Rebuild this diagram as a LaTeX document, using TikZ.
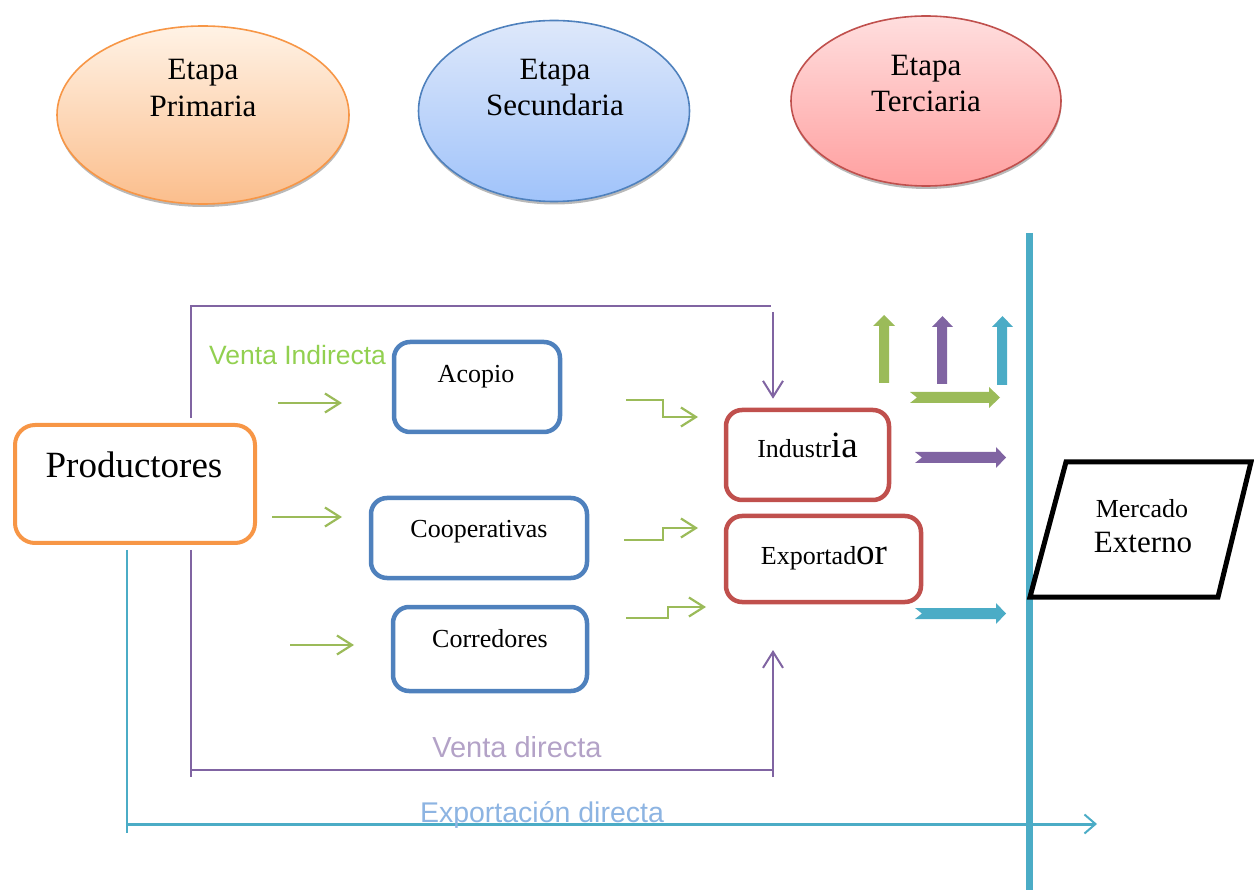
\documentclass[tikz,border=0pt]{standalone}
\usepackage{fontspec}
\setmainfont{Liberation Serif}
\newfontfamily\arialf{Liberation Sans}
\usetikzlibrary{arrows.meta,shadows,shapes.geometric}
\definecolor{corange}{HTML}{F79646}
\definecolor{cblue}{HTML}{4F81BD}
\definecolor{cred}{HTML}{C0504D}
\definecolor{cgreen}{HTML}{9BBB59}
\definecolor{cpurple}{HTML}{8064A2}
\definecolor{ccyan}{HTML}{4BACC6}
\definecolor{tgreen}{HTML}{92D050}
\definecolor{tpurple}{HTML}{B3A2C7}
\definecolor{tblue}{HTML}{8DB4E2}
\begin{document}
\begin{tikzpicture}[x=1pt,y=-1pt,
  stage/.style={ellipse, draw, line width=1.6pt, inner sep=0pt,
    drop shadow={shadow xshift=0.5pt, shadow yshift=-3pt, opacity=0.55, fill=gray}},
  procbox/.style={rectangle, rounded corners=16pt, draw, line width=4.5pt, inner sep=0pt, fill=white},
  lbl/.style={anchor=base, inner sep=0pt},
  garrow/.style={draw=cgreen, line width=2.2pt, -{Straight Barb[length=15pt,width=19pt,line width=2.2pt]}},
  vline/.style={draw=cpurple, line width=2pt},
  cline/.style={draw=ccyan},
]
\useasboundingbox (0,0) rectangle (1254,890);

% stage ellipses
\node[stage, draw=corange, top color=orange!10!white, bottom color={rgb,255:red,251;green,190;blue,140},
  minimum width=292pt, minimum height=178pt] (ep) at (203,115) {};
\node[stage, draw=cblue, top color={rgb,255:red,222;green,232;blue,250}, bottom color={rgb,255:red,160;green,195;blue,250},
  minimum width=271pt, minimum height=181pt] (es) at (554,111) {};
\node[stage, draw=cred, top color={rgb,255:red,255;green,222;blue,222}, bottom color={rgb,255:red,255;green,160;blue,160},
  minimum width=270pt, minimum height=170pt] (et) at (926,101) {};
\node[lbl, font=\fontsize{31}{34}\selectfont] (ep1) at (203,80) {Etapa};
\node[lbl, font=\fontsize{31}{34}\selectfont] (ep2) at (203,117) {Primaria};
\node[lbl, font=\fontsize{31}{34}\selectfont] (es1) at (555,80) {Etapa};
\node[lbl, font=\fontsize{31}{34}\selectfont] (es2) at (555,116) {Secundaria};
\node[lbl, font=\fontsize{31}{34}\selectfont] (et1) at (926,76) {Etapa};
\node[lbl, font=\fontsize{31}{34}\selectfont] (et2) at (926,112) {Terciaria};

% external market line
\draw[cline, line width=7pt] (1029,233) coordinate (mtop) -- (1029,890) coordinate (mbot);

% process boxes
\node[procbox, draw=corange, rounded corners=20pt, line width=4pt, minimum width=240pt, minimum height=118pt] (prod) at (135,484) {};
\node[lbl, font=\fontsize{37}{40}\selectfont] (prodt) at (134,478) {Productores};

\node[procbox, draw=cblue, minimum width=166pt, minimum height=90pt] (aco) at (477,387) {};
\node[lbl, font=\fontsize{26}{28}\selectfont] (acot) at (476,383) {Acopio};
\node[procbox, draw=cblue, minimum width=216pt, minimum height=80pt] (coo) at (479,538) {};
\node[lbl, font=\fontsize{26}{28}\selectfont] (coot) at (479,538) {Cooperativas};
\node[procbox, draw=cblue, minimum width=194pt, minimum height=84pt] (cor) at (490,649) {};
\node[lbl, font=\fontsize{26}{28}\selectfont] (cort) at (490,647) {Corredores};

\node[procbox, draw=cred, minimum width=163pt, minimum height=90pt] (ind) at (807.5,455) {};
\node[lbl, font=\fontsize{26}{28}\selectfont] (indt) at (807.5,458) {Industr{\fontsize{37}{40}\selectfont ia}};
\node[procbox, draw=cred, minimum width=195pt, minimum height=86pt] (exp) at (823.5,559) {};
\node[lbl, font=\fontsize{26}{28}\selectfont] (expt) at (824,565) {Exportad{\fontsize{37}{40}\selectfont or}};

% Mercado Externo
\draw[line width=5pt, fill=white, line join=miter] (1066,462) coordinate (m1) -- (1251,462) coordinate (m2)
  -- (1218,597) coordinate (m3) -- (1030,597) coordinate (m4) -- cycle;
\node[lbl, font=\fontsize{26}{28}\selectfont] (mer1) at (1142,518) {Mercado};
\node[lbl, font=\fontsize{31}{34}\selectfont] (mer2) at (1143,553) {Externo};

% labels
\node[lbl, anchor=base west, font=\arialf\fontsize{26.5}{28}\selectfont, text=tgreen] (vi) at (209,365) {Venta Indirecta};
\node[lbl, font=\arialf\fontsize{29}{31}\selectfont, text=tpurple] (vd) at (517,757) {Venta directa};

% purple direct sale lines
\coordinate (pa) at (191,418);
\coordinate (pb) at (191,306);
\coordinate (pc) at (771,306);
\coordinate (pd) at (773,312);
\draw[vline] (pa) -- (pb) -- (pc);
\draw[vline, -{Straight Barb[length=16pt,width=20pt,line width=2pt]}] (pd) -- (pd |- ind.north) [shorten >=9pt];
\coordinate (pe) at (191,550);
\coordinate (pf) at (191,777);
\coordinate (pg) at (773,777);
\coordinate (ph) at (773,650);
\draw[vline] (pe) -- (pf);
\draw[vline] (191,770) -- (773,770);
\draw[vline, -{Straight Barb[length=16pt,width=20pt,line width=2pt]}] (pg) -- (ph);

% cyan direct export
\coordinate (ca) at (127,550);
\coordinate (cb) at (127,833);
\coordinate (cc) at (127,824);
\coordinate (cd) at (1097,824);
\draw[cline, line width=1.5pt] (ca) -- (cb);
\draw[cline, line width=3pt, -{Straight Barb[length=11pt,width=19pt,line width=2pt]}] (cc) -- (cd);
\node[lbl, font=\arialf\fontsize{28.5}{30}\selectfont, text=tblue] (ed) at (542,822) {Exportación directa};

% green arrows to intermediaries
\draw[garrow] (278,403) coordinate (g1a) -- (342,403) coordinate (g1b);
\draw[garrow] (272,517) coordinate (g2a) -- (342,517) coordinate (g2b);
\draw[garrow] (290,645) coordinate (g3a) -- (354,645) coordinate (g3b);

% green step arrows to industry/exporter
\draw[garrow] (626,400) coordinate (s1a) -- (663,400) -- (663,417) -- (698,417) coordinate (s1b);
\draw[garrow] (624,540) coordinate (s2a) -- (663,540) -- (663,528) -- (698,528) coordinate (s2b);
\draw[garrow] (626,618) coordinate (s3a) -- (668,618) -- (668,607) -- (706,607) coordinate (s3b);

% block arrows up
\fill[cgreen] (879,383) -- (879,326) -- (873,326) -- (884,315) -- (895,326) -- (889,326) -- (889,383) -- cycle;
\fill[cpurple] (937,384) -- (937,327) -- (932,327) -- (942.5,316) -- (953,327) -- (947,327) -- (947,384) -- cycle;
\fill[ccyan] (997,385) -- (997,327) -- (992,327) -- (1002.5,316) -- (1013,327) -- (1007,327) -- (1007,385) -- cycle;

% block arrows right
\fill[cgreen] (910,392) -- (989,392) -- (989,387) -- (1000,397.5) -- (989,408) -- (989,403) -- (910,403) -- (917,397.5) -- cycle;
\fill[cpurple] (915,452) -- (996,452) -- (996,447) -- (1006,457.5) -- (996,468) -- (996,463) -- (915,463) -- (922,457.5) -- cycle;
\fill[ccyan] (915,608) -- (996,608) -- (996,603) -- (1006,613.5) -- (996,624) -- (996,619) -- (915,619) -- (922,613.5) -- cycle;
\end{tikzpicture}
\end{document}
